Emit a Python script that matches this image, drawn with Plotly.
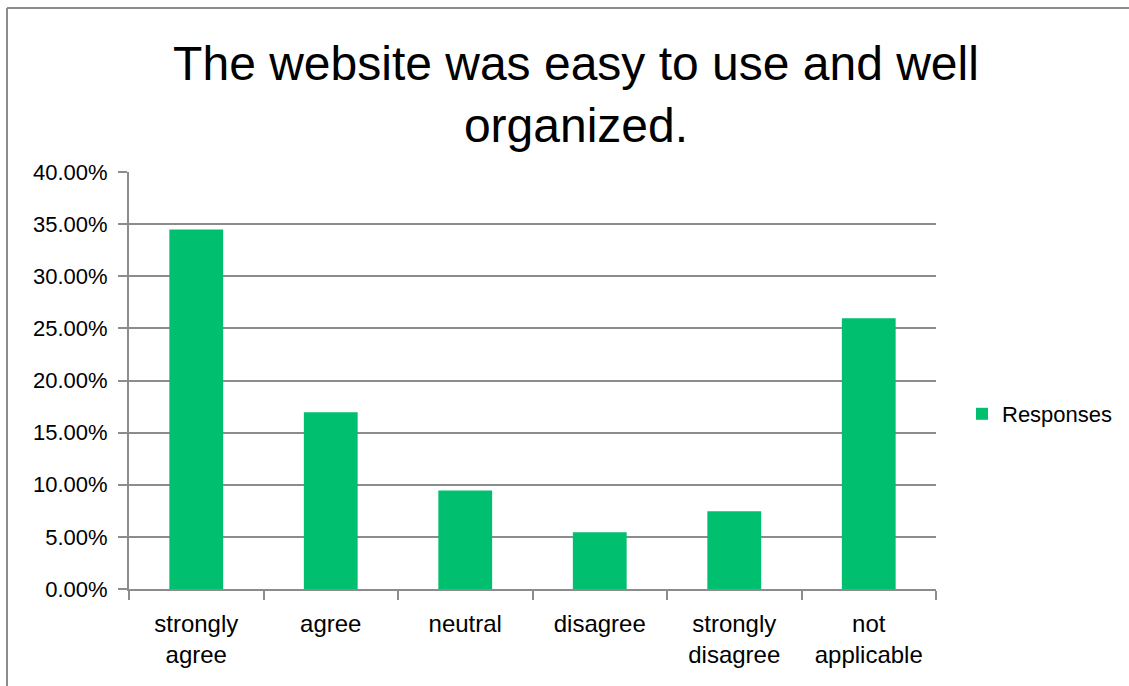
import plotly.graph_objects as go

# Survey responses (share of respondents)
categories = ["strongly agree", "agree", "neutral", "disagree", "strongly disagree", "not applicable"]
category_labels = ["strongly<br>agree", "agree", "neutral", "disagree", "strongly<br>disagree", "not<br>applicable"]
responses = [0.3448, 0.1695, 0.0945, 0.0545, 0.0745, 0.2598]
y_ticks = [0.0, 0.05, 0.10, 0.15, 0.20, 0.25, 0.30, 0.35, 0.40]

W, H = 1129, 686
ML, MR, MT, MB = 129, 193, 172, 97
PW = W - ML - MR
PH = H - MT - MB

GREEN = "rgb(0,191,111)"
GRID = "#8c8c8c"
FONT = "Liberation Sans, Arial, sans-serif"

fig = go.Figure()
fig.add_trace(go.Bar(
    x=categories,
    y=responses,
    name="Responses",
    marker=dict(color=GREEN, line=dict(width=0)),
    showlegend=False,
))
# Legend entry with a larger square swatch
fig.add_trace(go.Scatter(
    x=[None], y=[None],
    mode="markers",
    name="Responses",
    marker=dict(symbol="square", size=15, color=GREEN),
    showlegend=True,
))

fig.update_layout(
    width=W, height=H,
    margin=dict(l=ML, r=MR, t=MT, b=MB, pad=0),
    paper_bgcolor="white",
    plot_bgcolor="white",
    bargap=0.6,
    font=dict(family=FONT, color="black", size=22),
    title=dict(
        text="The website was easy to use and well<br>organized.",
        x=576 / W, xanchor="center",
        xref="container",
        y=1 - 80 / H, yanchor="middle",
        yref="container",
        font=dict(family=FONT, size=48, color="black"),
    ),
    legend=dict(
        xref="container", yref="container",
        x=962 / W, xanchor="left",
        y=1 - 414 / H, yanchor="middle",
        font=dict(family=FONT, size=22, color="black"),
        itemsizing="constant",
        itemwidth=30,
        bgcolor="rgba(0,0,0,0)",
    ),
    xaxis=dict(
        tickmode="array",
        tickvals=categories,
        ticktext=category_labels,
        showgrid=False,
        showline=True, linecolor=GRID, linewidth=2,
        ticks="outside", ticklen=9, tickcolor=GRID, tickwidth=2,
        tickson="boundaries",
        tickfont=dict(family=FONT, size=24, color="black"),
        ticklabelstandoff=12,
    ),
    yaxis=dict(
        range=[0, 0.40],
        tickvals=y_ticks,
        tickformat=".2%",
        showgrid=True, gridcolor=GRID, gridwidth=2,
        showline=True, linecolor=GRID, linewidth=2,
        ticks="outside", ticklen=9, tickcolor=GRID, tickwidth=2,
        tickfont=dict(family=FONT, size=22, color="black"),
        zeroline=False,
        ticklabelstandoff=6,
    ),
)

# Outer chart frame (left and top edges)
fig.add_shape(
    type="line", xref="paper", yref="paper",
    x0=(7 - ML) / PW, x1=(7 - ML) / PW,
    y0=(MB - H) / PH - 0.1, y1=(H - 8 - MB) / PH,
    line=dict(color=GRID, width=2),
)
fig.add_shape(
    type="line", xref="paper", yref="paper",
    x0=(7 - ML) / PW, x1=(W + 10 - ML) / PW,
    y0=(H - 8 - MB) / PH, y1=(H - 8 - MB) / PH,
    line=dict(color=GRID, width=2),
)

fig.write_html("out.html")
